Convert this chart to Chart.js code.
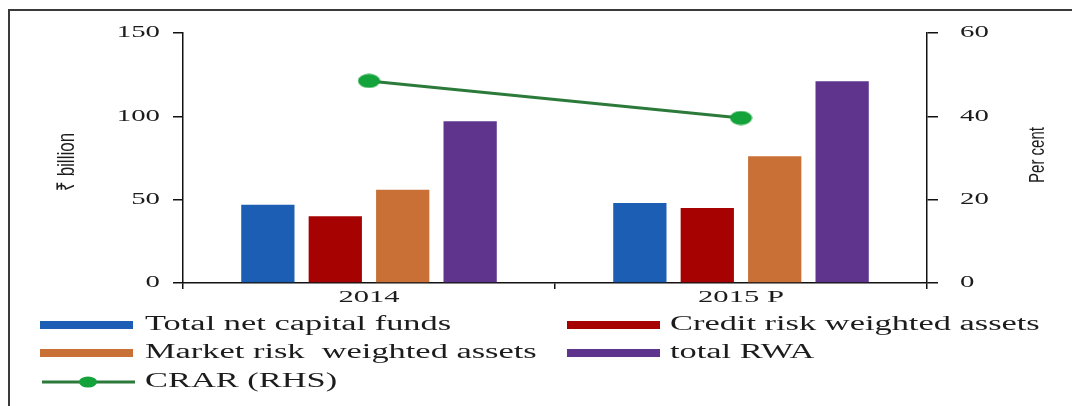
<!DOCTYPE html>
<html>
<head>
<meta charset="utf-8">
<script src="https://cdn.jsdelivr.net/npm/chart.js@4"></script>
<style>
  html, body { margin: 0; padding: 0; background: #fff; }
  #wrap { width: 1072px; height: 406px; }
</style>
</head>
<body>
<div id="wrap"><canvas id="c" width="1072" height="406"></canvas></div>
<script>
// Capital adequacy: funds and risk-weighted assets (₹ billion) with CRAR (per cent)
const categories = ['2014', '2015 P'];
const netCapitalFunds = [47, 48];
const creditRiskWA = [40, 45];
const marketRiskWA = [56, 76];
const totalRWA = [97, 121];
const crar = [48.5, 39.6];

const leftTicks = [0, 50, 100, 150];
const rightTicks = [0, 20, 40, 60];
const leftTitle = '₹ billion';
const rightTitle = 'Per cent';

const seriesNames = [
  'Total net capital funds',
  'Credit risk weighted assets',
  'Market risk  weighted assets',
  'total RWA',
  'CRAR (RHS)'
];

const SERIF = '"Liberation Serif", "Times New Roman", serif';
const SANS = '"Liberation Sans", Arial, sans-serif';
const INK = '#1c1c1c';

// oval marker used for the CRAR points
function ovalMarker(w, h, fill) {
  const cv = document.createElement('canvas');
  cv.width = w; cv.height = h;
  const g = cv.getContext('2d');
  g.fillStyle = fill;
  g.beginPath();
  g.ellipse(w / 2, h / 2, w / 2 - 0.5, h / 2 - 0.5, 0, 0, Math.PI * 2);
  g.fill();
  return cv;
}
const crarMarker = ovalMarker(23, 15, '#14a23a');

// text drawn with a horizontal stretch
function wideText(ctx, text, x, y, font, sx, align, baseline) {
  ctx.save();
  ctx.font = font;
  ctx.fillStyle = INK;
  ctx.textAlign = align;
  ctx.textBaseline = baseline || 'middle';
  ctx.translate(x, y);
  ctx.scale(sx, 1);
  ctx.fillText(text, 0, 0);
  ctx.restore();
}

function verticalText(ctx, text, x, y, font, sy) {
  ctx.save();
  ctx.font = font;
  ctx.fillStyle = INK;
  ctx.textAlign = 'center';
  ctx.textBaseline = 'middle';
  ctx.translate(x, y);
  ctx.rotate(-Math.PI / 2);
  ctx.scale(1, sy);
  ctx.fillText(text, 0, 0);
  ctx.restore();
}

const decorations = {
  id: 'decorations',
  afterDraw(chart) {
    const ctx = chart.ctx;
    const x = chart.scales.x, y = chart.scales.y, y1 = chart.scales.y1;

    // outer frame
    ctx.save();
    ctx.strokeStyle = '#3a3a3a';
    ctx.lineWidth = 2;
    ctx.beginPath();
    ctx.moveTo(9, 406);
    ctx.lineTo(9, 10);
    ctx.lineTo(1072, 10);
    ctx.stroke();
    ctx.restore();

    // tick labels
    const tickFont = '16px ' + SERIF;
    leftTicks.forEach(v => wideText(ctx, String(v), 160, y.getPixelForValue(v), tickFont, 1.8, 'right'));
    rightTicks.forEach(v => wideText(ctx, String(v), 960, y1.getPixelForValue(v), tickFont, 1.8, 'left'));
    categories.forEach((c, i) => wideText(ctx, c, x.getPixelForValue(i), 298, '17px ' + SERIF, 1.8, 'center'));

    // axis titles
    verticalText(ctx, leftTitle, 67, 162, '17px ' + SANS, 1.45);
    verticalText(ctx, rightTitle, 1038, 155, '15px ' + SANS, 1.45);

    // legend: two columns, three rows
    const slots = [[0, 0], [1, 0], [0, 1], [1, 1], [0, 2]];
    const colSwatch = [40, 567];
    const colText = [145, 670];
    const rowY = [325, 353, 382];
    const legFont = '20px ' + SERIF;
    chart.data.datasets.forEach((ds, i) => {
      const [col, row] = slots[i];
      const sx0 = colSwatch[col], yy = rowY[row];
      ctx.save();
      if (ds.type === 'line') {
        ctx.strokeStyle = ds.borderColor;
        ctx.lineWidth = 3;
        ctx.beginPath();
        ctx.moveTo(sx0 + 2, yy);
        ctx.lineTo(sx0 + 95, yy);
        ctx.stroke();
        ctx.fillStyle = '#14a23a';
        ctx.beginPath();
        ctx.ellipse(sx0 + 48, yy, 9, 5.5, 0, 0, Math.PI * 2);
        ctx.fill();
      } else {
        ctx.fillStyle = ds.backgroundColor;
        ctx.fillRect(sx0, yy - 4, 93, 8);
      }
      ctx.restore();
      wideText(ctx, ds.label, colText[col], yy, legFont, 1.72, 'left');
    });
  }
};

const barCommon = { categoryPercentage: 0.725, barPercentage: 0.79, order: 1, yAxisID: 'y' };

new Chart(document.getElementById('c'), {
  type: 'bar',
  data: {
    labels: categories,
    datasets: [
      Object.assign({ label: seriesNames[0], data: netCapitalFunds, backgroundColor: '#1b5eb3' }, barCommon),
      Object.assign({ label: seriesNames[1], data: creditRiskWA, backgroundColor: '#a60202' }, barCommon),
      Object.assign({ label: seriesNames[2], data: marketRiskWA, backgroundColor: '#c87036' }, barCommon),
      Object.assign({ label: seriesNames[3], data: totalRWA, backgroundColor: '#5e348d' }, barCommon),
      {
        type: 'line', label: seriesNames[4], data: crar, yAxisID: 'y1', order: 0,
        borderColor: '#2b7a3a', borderWidth: 3, backgroundColor: '#14a23a',
        pointStyle: crarMarker, pointRadius: 8, fill: false, tension: 0
      }
    ]
  },
  options: {
    responsive: false,
    devicePixelRatio: 1,
    animation: false,
    layout: { padding: { top: 33, left: 0, right: 0, bottom: 0 } },
    plugins: { legend: { display: false }, tooltip: { enabled: false }, title: { display: false } },
    scales: {
      x: {
        grid: { drawOnChartArea: false, tickLength: 6, tickColor: '#111', lineWidth: 1.5 },
        border: { color: '#111', width: 1.5 },
        ticks: { display: false },
        afterFit(s) { s.height = 123; }
      },
      y: {
        position: 'left', min: 0, max: 150,
        afterBuildTicks(s) { s.ticks = leftTicks.map(v => ({ value: v })); },
        grid: { drawOnChartArea: false, tickLength: 10, tickColor: '#111', lineWidth: 1.5 },
        border: { color: '#111', width: 1.5 },
        ticks: { display: false },
        afterFit(s) { s.width = 183; }
      },
      y1: {
        position: 'right', min: 0, max: 60,
        afterBuildTicks(s) { s.ticks = rightTicks.map(v => ({ value: v })); },
        grid: { drawOnChartArea: false, tickLength: 11, tickColor: '#111', lineWidth: 1.5 },
        border: { color: '#111', width: 1.5 },
        ticks: { display: false },
        afterFit(s) { s.width = 145; }
      }
    }
  },
  plugins: [decorations]
});
</script>
</body>
</html>
